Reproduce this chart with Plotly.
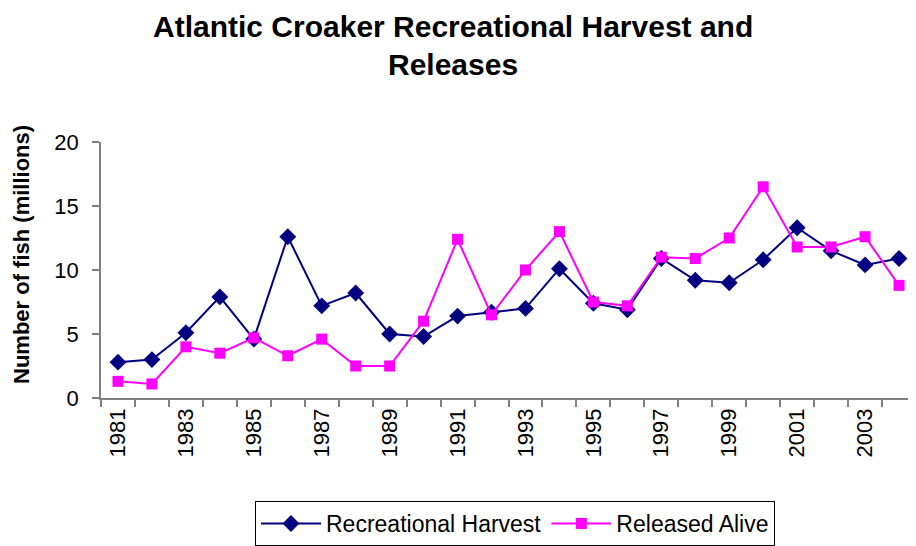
import plotly.graph_objects as go

years = list(range(1981, 2005))
harvest = [2.8, 3.0, 5.1, 7.9, 4.6, 12.6, 7.2, 8.2, 5.0, 4.8, 6.4, 6.7,
           7.0, 10.1, 7.4, 6.9, 10.9, 9.2, 9.0, 10.8, 13.3, 11.5, 10.4, 10.9]
released = [1.3, 1.1, 4.0, 3.5, 4.7, 3.3, 4.6, 2.5, 2.5, 6.0, 12.4, 6.5,
            10.0, 13.0, 7.5, 7.2, 11.0, 10.9, 12.5, 16.5, 11.8, 11.8, 12.6, 8.8]
tick_years = list(range(1981, 2004, 2))
y_ticks = [0, 5, 10, 15, 20]
title_lines = ["Atlantic Croaker Recreational Harvest and", "Releases"]

FONT = "Liberation Sans, Arial, sans-serif"
OFF = 8  # page body margin
W, H = 916 - OFF, 546 - OFF
L, R, T = 101 - OFF, 0, 142 - OFF
B = H - (398 - OFF)
PH = H - T - B
PW = W - L - R


def py(p):
    return (H - B - (p - OFF)) / PH


def px(p):
    return ((p - OFF) - L) / PW


fig = go.Figure()
fig.add_trace(go.Scatter(
    x=years, y=harvest, name="Recreational Harvest", mode="lines+markers",
    line=dict(color="#000080", width=2),
    marker=dict(symbol="diamond", size=13, color="#000080"),
    cliponaxis=False))
fig.add_trace(go.Scatter(
    x=years, y=released, name="Released Alive", mode="lines+markers",
    line=dict(color="#FF00FF", width=2),
    marker=dict(symbol="square", size=11, color="#FF00FF"),
    cliponaxis=False))

fig.update_layout(
    width=W, height=H,
    margin=dict(l=L, r=R, t=T, b=B, autoexpand=False),
    paper_bgcolor="white", plot_bgcolor="white",
    font=dict(family=FONT, color="black"),
    showlegend=True,
    legend=dict(orientation="h", x=(515 - OFF) / W, xanchor="center", xref="container",
                y=(H - (501 - OFF)) / H, yanchor="top", yref="container",
                bordercolor="#000000", borderwidth=1, bgcolor="white",
                font=dict(size=23, family=FONT, color="black"),
                itemwidth=60, tracegroupgap=0),
)

fig.update_xaxes(
    range=[1980.5, 2004.5], tickmode="array", tickvals=tick_years,
    ticktext=[str(y) for y in tick_years], tickangle=-90,
    ticks="", showgrid=False, zeroline=False, automargin=False,
    showline=True, linecolor="#808080", linewidth=1.5,
    tickfont=dict(size=22, family=FONT, color="black"),
    minor=dict(ticks="outside", tick0=1980.5, dtick=1, ticklen=7,
               tickcolor="#808080", tickwidth=1.5, showgrid=False),
)
fig.update_yaxes(
    range=[0, 20], tickmode="array", tickvals=y_ticks,
    ticks="outside", ticklen=7, tickcolor="#808080", tickwidth=1.5,
    ticklabelstandoff=9,
    showgrid=False, zeroline=False, automargin=False,
    showline=True, linecolor="#808080", linewidth=1.5,
    tickfont=dict(size=22, family=FONT, color="black"),
)

fig.add_annotation(text="<b>" + title_lines[0] + "</b>", xref="paper", yref="paper",
                   x=px(453), y=py(26), xanchor="center", yanchor="middle",
                   showarrow=False, font=dict(size=30, family=FONT, color="black"))
fig.add_annotation(text="<b>" + title_lines[1] + "</b>", xref="paper", yref="paper",
                   x=px(453), y=py(64), xanchor="center", yanchor="middle",
                   showarrow=False, font=dict(size=30, family=FONT, color="black"))

fig.add_annotation(text="<b>Number of fish (millions)</b>", textangle=-90,
                   xref="paper", yref="paper", x=px(21), y=py(255),
                   xanchor="center", yanchor="middle",
                   showarrow=False, font=dict(size=22, family=FONT, color="black"))

fig.write_html("out.html")
